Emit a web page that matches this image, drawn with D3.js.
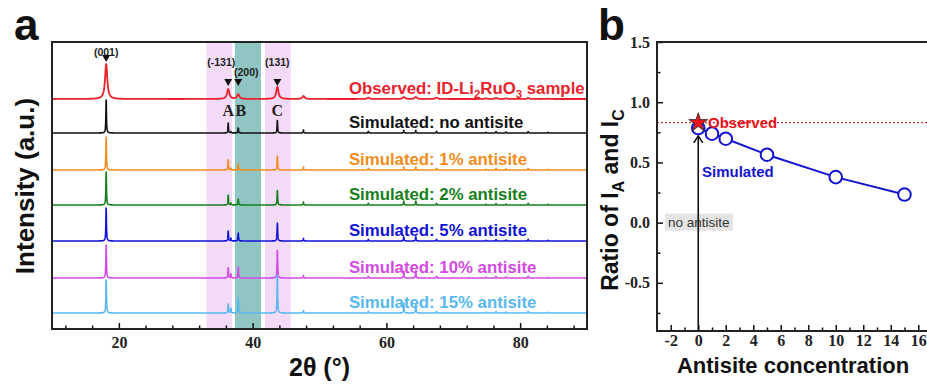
<!DOCTYPE html>
<html>
<head>
<meta charset="utf-8">
<script src="https://cdn.jsdelivr.net/npm/d3@7"></script>
<style>
  html, body { margin: 0; padding: 0; background: #fff; }
  svg { display: block; }
</style>
</head>
<body>
<svg id="chart" width="927" height="385"></svg>
<script>
// ---------- Panel a: XRD patterns ----------
// Reflection positions (2θ, degrees)
const peakPositions = [18.1, 36.35, 36.75, 37.85, 43.7, 47.6, 57.3, 62.6, 64.4, 67.5, 74.9, 76.4, 77.9, 81.2, 84.2];

// Relative peak intensities per pattern, (001) = 100
const observedIntensity = [106, 30, 0, 14, 37, 9, 4, 6, 6, 4, 2, 3, 2, 3, 1];
const noAntisite   = [100, 30, 4, 15, 38, 9, 5, 8, 8, 5, 2, 4, 3, 4, 2];
const antisite1    = [100, 31, 5, 18, 42, 9, 5, 9, 9, 5, 2, 4, 3, 4, 2];
const antisite2    = [100, 30, 6, 18, 44, 9, 5, 12, 12, 5, 2, 4, 3, 5, 2];
const antisite5    = [100, 30, 8, 24, 54, 8, 5, 13, 13, 5, 2, 4, 3, 5, 2];
const antisite10   = [100, 31, 12, 33, 84, 8, 5, 21, 21, 5, 2, 4, 3, 5, 2];
const antisite15   = [100, 27, 14, 45, 115, 7, 5, 30, 28, 5, 2, 4, 3, 5, 2];

// Vertical offset of each pattern (stacking)
const patternOffsets = [230, 196, 159, 124, 88, 51, 16];

const patternLabels = [
  "Observed", "Simulated: no antisite", "Simulated: 1% antisite", "Simulated: 2% antisite",
  "Simulated: 5% antisite", "Simulated: 10% antisite", "Simulated: 15% antisite"
];

// Highlighted 2θ regions
const bandRanges = [[33.1, 36.95], [37.35, 41.25], [41.85, 45.7]];

// Reflection labels
const hklLabels = ["(001)", "(-131)", "(200)", "(131)"];
const hklPositions = [18.1, 36.35, 37.85, 43.7];
const peakLetters = ["A", "B", "C"];
const letterPositions = [36.35, 37.95, 43.7];

// Axis ticks
const xMajorTicksA = [20, 40, 60, 80];
const xMinorTicksA = [12, 16, 24, 28, 32, 36, 44, 48, 52, 56, 64, 68, 72, 76, 84, 88];

// ---------- Panel b: intensity ratio ----------
const concentration = [0, 1, 2, 5, 10, 15];
const ratioSimulated = [0.786, 0.739, 0.697, 0.564, 0.378, 0.233];
const ratioObserved = 0.83;
const xMajorTicksB = [-2, 0, 2, 4, 6, 8, 10, 12, 14, 16];
const xTickLabelsB = ["-2", "0", "2", "4", "6", "8", "10", "12", "14", "16"];
const xMinorTicksB = [-1, 1, 3, 5, 7, 9, 11, 13, 15];
const yMajorTicksB = [-0.5, 0, 0.5, 1.0, 1.5];
const yTickLabelsB = ["-0.5", "0.0", "0.5", "1.0", "1.5"];
const yMinorTicksB = [-0.75, -0.25, 0.25, 0.75, 1.25];

// ---------- styles ----------
const SANS = "'Liberation Sans', Arial, sans-serif";
const SERIF = "'Liberation Serif', 'Times New Roman', serif";
const patternColors = ["#e8232b", "#111111", "#f28c1c", "#17801c", "#1212d6", "#d34ae4", "#5ab8ef"];
const bandColors = ["#f3daf7", "#90c5c3", "#f3daf7"];

const svg = d3.select("#chart");

// ===== Panel a =====
const A = { left: 52, right: 587, top: 42, bottom: 329 };
const xA = d3.scaleLinear().domain([10, 90]).range([A.left, A.right]);
const yA = d3.scaleLinear().domain([0, 287]).range([A.bottom, A.top]);
const heightScale = 0.33; // intensity % -> stacking units

const gA = svg.append("g");
gA.append("defs").append("clipPath").attr("id", "clipA")
  .append("rect").attr("x", A.left).attr("y", A.top)
  .attr("width", A.right - A.left).attr("height", A.bottom - A.top);

gA.selectAll("rect.band").data(bandRanges).join("rect")
  .attr("class", "band")
  .attr("x", d => xA(d[0])).attr("width", d => xA(d[1]) - xA(d[0]))
  .attr("y", A.top).attr("height", A.bottom - A.top)
  .attr("fill", (d, i) => bandColors[i]);

// Build a pattern profile from its reflection list (Lorentzian peak shape)
function profile(intensities, hwhm) {
  const pts = [];
  for (let t = 10; t <= 90.0001; t += 0.01) {
    let s = 0;
    for (let k = 0; k < peakPositions.length; k++) {
      const u = (t - peakPositions[k]) / hwhm;
      s += intensities[k] / (1 + u * u);
    }
    pts.push([t, s]);
  }
  return pts;
}

const patterns = [observedIntensity, noAntisite, antisite1, antisite2, antisite5, antisite10, antisite15];
const widths = [0.2, 0.05, 0.05, 0.05, 0.05, 0.05, 0.05];

const lineA = d3.line().x(d => xA(d[0])).y(d => yA(d[1]));
const curves = gA.append("g").attr("clip-path", "url(#clipA)");
patterns.forEach((p, i) => {
  const pts = profile(p, widths[i]).map(d => [d[0], patternOffsets[i] + d[1] * heightScale]);
  curves.append("path").datum(pts)
    .attr("d", lineA).attr("fill", "none")
    .attr("stroke", patternColors[i])
    .attr("stroke-width", i === 0 ? 1.8 : 1.6)
    .attr("stroke-linejoin", "round");
});

// Pattern labels
const labelX = xA(54.4);
patterns.forEach((p, i) => {
  const t = gA.append("text").attr("font-family", SANS)
    .attr("x", labelX).attr("y", yA(patternOffsets[i]) - 5)
    .attr("font-size", 16.8).attr("font-weight", "bold")
    .attr("fill", patternColors[i]);
  if (i === 0) {
    t.append("tspan").text("Observed: ID-Li");
    t.append("tspan").attr("font-size", 11.5).attr("dy", 4).text("2");
    t.append("tspan").attr("dy", -4).text("RuO");
    t.append("tspan").attr("font-size", 11.5).attr("dy", 4).text("3");
    t.append("tspan").attr("dy", -4).text(" sample");
  } else {
    t.text(patternLabels[i]);
  }
});

// Reflection markers on the observed pattern
const hklLabelY = [52, 62, 72, 62];
const triY = [58, 82, 82, 82];
hklLabels.forEach((lab, i) => {
  gA.append("text").attr("font-family", SANS)
    .attr("x", xA(hklPositions[i]) + (i === 1 ? -7 : i === 2 ? 8 : 0))
    .attr("y", hklLabelY[i] + 4)
    .attr("text-anchor", "middle").attr("font-size", 10.5).attr("font-weight", "bold")
    .attr("fill", "#222").text(lab);
  const cx = xA(hklPositions[i]), ty = triY[i];
  gA.append("path")
    .attr("d", `M${cx - 4},${ty - 3}L${cx + 4},${ty - 3}L${cx},${ty + 4}Z`)
    .attr("fill", "#111");
});
peakLetters.forEach((L, i) => {
  gA.append("text").attr("font-family", SERIF)
    .attr("x", xA(letterPositions[i]) + (i === 1 ? 2 : 0)).attr("y", 116)
    .attr("text-anchor", "middle").attr("font-size", 16).attr("font-weight", "bold")
    .attr("fill", "#222").text(L);
});

// Axes and frame
const axA = gA.append("g").attr("transform", `translate(0,${A.bottom})`)
  .call(d3.axisBottom(xA).tickValues(xMajorTicksA).tickSizeInner(-6).tickSizeOuter(0).tickPadding(8).tickFormat(d3.format("d")));
gA.append("g").attr("transform", `translate(0,${A.bottom})`)
  .call(d3.axisBottom(xA).tickValues(xMinorTicksA).tickSizeInner(-3.5).tickSizeOuter(0).tickFormat(""));
gA.selectAll(".tick line").attr("stroke", "#111").attr("stroke-width", 1.5);
gA.selectAll(".domain").remove();
axA.attr("font-family", SERIF);
axA.selectAll("text").attr("font-family", SERIF).attr("font-size", 16).attr("font-weight", "bold").attr("fill", "#222");
gA.append("rect").attr("x", A.left).attr("y", A.top)
  .attr("width", A.right - A.left).attr("height", A.bottom - A.top)
  .attr("fill", "none").attr("stroke", "#222").attr("stroke-width", 2);

gA.append("text").attr("font-family", SANS)
  .attr("transform", `translate(34,186) rotate(-90)`)
  .attr("text-anchor", "middle").attr("font-size", 26).attr("font-weight", "bold")
  .attr("fill", "#111").text("Intensity (a.u.)");
gA.append("text").attr("font-family", SANS)
  .attr("x", (A.left + A.right) / 2).attr("y", 376)
  .attr("text-anchor", "middle").attr("font-size", 25).attr("font-weight", "bold")
  .attr("fill", "#111").text("2θ (°)");
gA.append("text").attr("font-family", SANS)
  .attr("x", 14).attr("y", 40).attr("font-size", 44).attr("font-weight", "bold")
  .attr("fill", "#111").text("a");

// ===== Panel b =====
const B = { left: 657, right: 932, top: 42, bottom: 331 };
const xB = d3.scaleLinear().domain([-3, 17]).range([B.left, B.right]);
const yB = d3.scaleLinear().domain([-0.9, 1.5]).range([B.bottom, B.top]);
const gB = svg.append("g");

// Observed ratio reference line
gB.append("line")
  .attr("x1", B.left).attr("x2", B.right)
  .attr("y1", yB(ratioObserved)).attr("y2", yB(ratioObserved))
  .attr("stroke", "#c8303a").attr("stroke-width", 1.3).attr("stroke-dasharray", "2,2");

// "no antisite" marker
gB.append("rect")
  .attr("x", 665).attr("y", yB(0) - 9).attr("width", 68).attr("height", 17)
  .attr("fill", "#e4e4e4");
gB.append("text").attr("font-family", SANS)
  .attr("x", 668).attr("y", yB(0) + 4.5)
  .attr("font-size", 13.5).attr("fill", "#333").text("no antisite");
const arrowTip = yB(0.72);
gB.append("line")
  .attr("x1", xB(0)).attr("x2", xB(0)).attr("y1", B.bottom).attr("y2", arrowTip + 1)
  .attr("stroke", "#111").attr("stroke-width", 1.6);
gB.append("path")
  .attr("d", `M${xB(0) - 4.5},${arrowTip + 7}L${xB(0)},${arrowTip}L${xB(0) + 4.5},${arrowTip + 7}`)
  .attr("fill", "none").attr("stroke", "#111").attr("stroke-width", 1.6);

// Simulated ratios
const lineB = d3.line().x((d, i) => xB(concentration[i])).y(d => yB(d));
gB.append("path").datum(ratioSimulated)
  .attr("d", lineB).attr("fill", "none").attr("stroke", "#1414d2").attr("stroke-width", 2);
gB.selectAll("circle.sim").data(ratioSimulated).join("circle")
  .attr("class", "sim")
  .attr("cx", (d, i) => xB(concentration[i])).attr("cy", d => yB(d))
  .attr("r", 6.3).attr("fill", "#fff").attr("stroke", "#1414d2").attr("stroke-width", 2);

// Observed ratio (star)
gB.append("path")
  .attr("d", d3.symbol().type(d3.symbolStar).size(110)())
  .attr("transform", `translate(${xB(0)},${yB(ratioObserved)})`)
  .attr("fill", "#e8141c").attr("stroke", "#222").attr("stroke-width", 0.8);

gB.append("text").attr("font-family", SANS)
  .attr("x", 708).attr("y", yB(ratioObserved) + 5.5)
  .attr("font-size", 15).attr("font-weight", "bold").attr("fill", "#e8141c").text("Observed");
gB.append("text").attr("font-family", SANS)
  .attr("x", 702).attr("y", 177)
  .attr("font-size", 15).attr("font-weight", "bold").attr("fill", "#1414d2").text("Simulated");

// Axes
const bx = gB.append("g").attr("transform", `translate(0,${B.bottom})`)
  .call(d3.axisBottom(xB).tickValues(xMajorTicksB).tickSizeInner(-6).tickSizeOuter(0).tickPadding(4)
    .tickFormat((d, i) => xTickLabelsB[i]));
gB.append("g").attr("transform", `translate(0,${B.bottom})`)
  .call(d3.axisBottom(xB).tickValues(xMinorTicksB).tickSizeInner(-3.5).tickSizeOuter(0).tickFormat(""));
const by = gB.append("g").attr("transform", `translate(${B.left},0)`)
  .call(d3.axisLeft(yB).tickValues(yMajorTicksB).tickSizeInner(-6).tickSizeOuter(0).tickPadding(7)
    .tickFormat((d, i) => yTickLabelsB[i]));
gB.append("g").attr("transform", `translate(${B.left},0)`)
  .call(d3.axisLeft(yB).tickValues(yMinorTicksB).tickSizeInner(-3.5).tickSizeOuter(0).tickFormat(""));
gB.selectAll(".domain").remove();
gB.selectAll(".tick line").attr("stroke", "#111").attr("stroke-width", 1.5);
[bx, by].forEach(g => {
  g.attr("font-family", SERIF);
  g.selectAll("text").attr("font-family", SERIF).attr("font-size", 16)
    .attr("font-weight", "bold").attr("fill", "#222");
});

gB.append("path")
  .attr("d", `M${B.right},${B.top}H${B.left}V${B.bottom}H${B.right}`)
  .attr("fill", "none").attr("stroke", "#222").attr("stroke-width", 2);

const yl = gB.append("text").attr("font-family", SANS)
  .attr("transform", `translate(618,200) rotate(-90)`)
  .attr("text-anchor", "middle").attr("font-size", 23).attr("font-weight", "bold").attr("fill", "#111");
yl.append("tspan").text("Ratio of I");
yl.append("tspan").attr("font-size", 16).attr("dy", 6).text("A");
yl.append("tspan").attr("dy", -6).text(" and I");
yl.append("tspan").attr("font-size", 16).attr("dy", 6).text("C");

gB.append("text").attr("font-family", SANS)
  .attr("x", 793).attr("y", 373)
  .attr("text-anchor", "middle").attr("font-size", 22).attr("font-weight", "bold")
  .attr("fill", "#111").text("Antisite concentration");
gB.append("text").attr("font-family", SANS)
  .attr("x", 598).attr("y", 40).attr("font-size", 44).attr("font-weight", "bold")
  .attr("fill", "#111").text("b");
</script>
</body>
</html>
